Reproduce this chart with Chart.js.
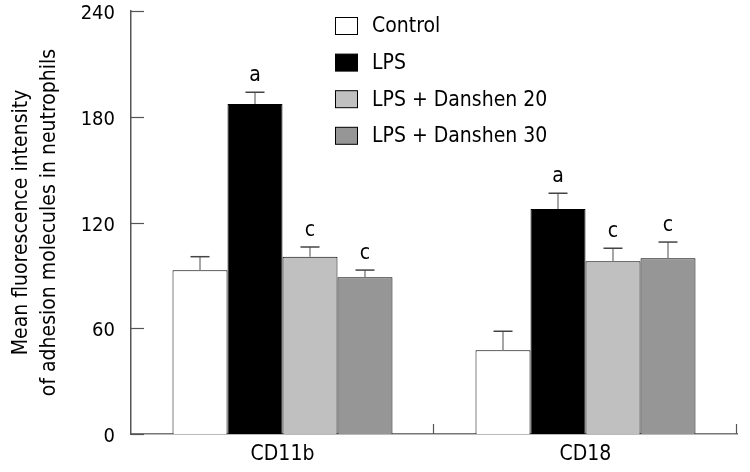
<!DOCTYPE html>
<html>
<head>
<meta charset="utf-8">
<script src="https://cdn.jsdelivr.net/npm/chart.js@4/dist/chart.umd.min.js"></script>
<style>
  html, body { margin: 0; padding: 0; background: #fff; }
  #wrap { width: 750px; height: 472px; position: relative; }
</style>
</head>
<body>
<div id="wrap"><canvas id="chart"></canvas></div>
<script>
const categories = ['CD11b', 'CD18'];
const groupNames = ['Control', 'LPS', 'LPS + Danshen 20', 'LPS + Danshen 30'];
const controlValues = [92.9, 47.5];
const lpsValues = [187.2, 127.7];
const danshen20Values = [100.6, 98.0];
const danshen30Values = [88.9, 99.7];
const controlErr = [7.7, 10.8];
const lpsErr = [6.7, 8.9];
const danshen20Err = [5.5, 7.4];
const danshen30Err = [4.1, 9.2];
const controlMarks = ['', ''];
const lpsMarks = ['a', 'a'];
const danshen20Marks = ['c', 'c'];
const danshen30Marks = ['c', 'c'];
const yTicks = [0, 60, 120, 180, 240];

const FONT = '"DejaVu Sans Condensed", "DejaVu Sans", sans-serif';
const FS = 21;
Chart.defaults.font.family = FONT;
Chart.defaults.color = '#000';

function makeSet(label, data, err, marks, color) {
    return {
        label, data,
        errors: err,
        marks,
        backgroundColor: color,
        borderColor: '#000',
        borderWidth: 1,
        borderSkipped: 'bottom',
        barPercentage: 1,
        categoryPercentage: 0.726
    };
}

// error bars, letters, inside tick marks and the legend
const extras = {
    id: 'extras',
    afterDatasetsDraw(chart) {
        const ctx = chart.ctx;
        const x = chart.scales.x, y = chart.scales.y;
        const area = chart.chartArea;
        ctx.save();
        chart.data.datasets.forEach((ds, i) => {
            const meta = chart.getDatasetMeta(i);
            meta.data.forEach((bar, j) => {
                const top = y.getPixelForValue(ds.data[j]);
                const cap = y.getPixelForValue(ds.data[j] + ds.errors[j]);
                ctx.strokeStyle = '#888';
                ctx.lineWidth = 1.5;
                ctx.beginPath();
                ctx.moveTo(bar.x, top);
                ctx.lineTo(bar.x, cap);
                ctx.stroke();
                ctx.strokeStyle = '#444';
                ctx.beginPath();
                ctx.moveTo(bar.x - 9.5, cap);
                ctx.lineTo(bar.x + 9.5, cap);
                ctx.stroke();
                if (ds.marks[j]) {
                    ctx.fillStyle = '#000';
                    ctx.font = FS + 'px ' + FONT;
                    ctx.textAlign = 'center';
                    ctx.textBaseline = 'alphabetic';
                    ctx.fillText(ds.marks[j], bar.x, cap - 11);
                }
            });
        });

        // tick marks pointing into the plot
        ctx.strokeStyle = '#555';
        ctx.lineWidth = 1.2;
        yTicks.forEach(v => {
            const py = Math.round(y.getPixelForValue(v)) + 0.5;
            ctx.beginPath();
            ctx.moveTo(area.left, py);
            ctx.lineTo(area.left + 13, py);
            ctx.stroke();
        });
        const half = (x.getPixelForValue(1) - x.getPixelForValue(0)) / 2;
        categories.forEach((c, j) => {
            const px = Math.round(x.getPixelForValue(j) + half) - 0.5;
            ctx.beginPath();
            ctx.moveTo(px, area.bottom);
            ctx.lineTo(px, area.bottom - 10);
            ctx.stroke();
        });

        // legend
        ctx.font = FS + 'px ' + FONT;
        ctx.textAlign = 'left';
        ctx.textBaseline = 'middle';
        chart.data.datasets.forEach((ds, i) => {
            const cy = 26 + i * 36.6;
            ctx.fillStyle = ds.backgroundColor;
            ctx.fillRect(335.5, cy - 8.5, 22, 17);
            ctx.strokeStyle = '#000';
            ctx.lineWidth = 1;
            ctx.strokeRect(335.5, cy - 8.5, 22, 17);
            ctx.fillStyle = '#000';
            ctx.fillText(ds.label, 372, cy + 1);
        });
        ctx.restore();
    }
};

new Chart(document.getElementById('chart'), {
    type: 'bar',
    data: {
        labels: categories,
        datasets: [
            makeSet(groupNames[0], controlValues, controlErr, controlMarks, '#ffffff'),
            makeSet(groupNames[1], lpsValues, lpsErr, lpsMarks, '#000000'),
            makeSet(groupNames[2], danshen20Values, danshen20Err, danshen20Marks, '#c0c0c0'),
            makeSet(groupNames[3], danshen30Values, danshen30Err, danshen30Marks, '#969696')
        ]
    },
    options: {
        responsive: true,
        maintainAspectRatio: false,
        animation: false,
        layout: { padding: { top: 11, right: 13, left: 0, bottom: 0 } },
        plugins: {
            legend: { display: false },
            tooltip: { enabled: false }
        },
        scales: {
            x: {
                grid: { display: false, drawTicks: false },
                border: { display: true, color: '#777', width: 1.5 },
                ticks: { font: { size: FS }, padding: 8, color: '#000' },
                afterFit(scale) { scale.height = 38; }
            },
            y: {
                min: 0,
                max: 240,
                grid: { display: false, drawTicks: false },
                border: { display: true, color: '#555', width: 1.5 },
                ticks: {
                    stepSize: 60,
                    padding: 16,
                    labelOffset: 3,
                    font: { size: 20, lineHeight: 1 },
                    color: '#000'
                },
                title: {
                    display: true,
                    text: ['Mean fluorescence intensity', 'of adhesion molecules in neutrophils'],
                    font: { size: FS, lineHeight: 1.35 },
                    color: '#000',
                    padding: { top: 7, bottom: 0 }
                },
                afterFit(scale) {
                    scale.width = 131;
                    scale.paddingTop = 0;
                    scale.paddingBottom = 0;
                }
            }
        }
    },
    plugins: [extras]
});
</script>
</body>
</html>
